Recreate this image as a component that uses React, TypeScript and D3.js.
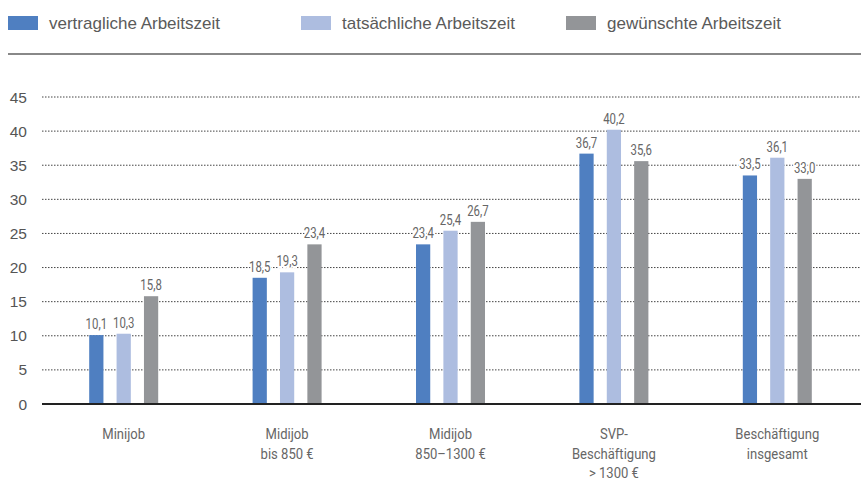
import React from 'react';
import * as d3 from 'd3';

const categories = ['Minijob', 'Midijob 850', 'Midijob 1300', 'SVP', 'Gesamt'];
const categoryLabels = [
  ['Minijob'],
  ['Midijob', 'bis 850 €'],
  ['Midijob', '850–1300 €'],
  ['SVP-', 'Beschäftigung', '> 1300 €'],
  ['Beschäftigung', 'insgesamt'],
];
const seriesNames = ['vertragliche Arbeitszeit', 'tatsächliche Arbeitszeit', 'gewünschte Arbeitszeit'];
const vertraglich = [10.1, 18.5, 23.4, 36.7, 33.5];
const tatsaechlich = [10.3, 19.3, 25.4, 40.2, 36.1];
const gewuenscht = [15.8, 23.4, 26.7, 35.6, 33.0];
const yTicks = [0, 5, 10, 15, 20, 25, 30, 35, 40, 45];

const colors = ['#4f7fc1', '#adbde0', '#939598'];
const series = [vertraglich, tatsaechlich, gewuenscht];
const legendX = [8, 301, 566];

const W = 861;
const H = 502;
const sans = '"Liberation Sans", Arial, sans-serif';

// condensed look: squeeze Roboto horizontally
const CText = ({ x, y, size, sx, halo, children }: any) => (
  <g transform={`translate(${x},${y}) scale(${sx},1)`}>
    <text
      textAnchor="middle"
      fontSize={size}
      fontFamily="Roboto, sans-serif"
      fill="#666"
      stroke={halo ? '#fff' : 'none'}
      strokeWidth={halo ? 4 : 0}
      paintOrder="stroke"
    >
      {children}
    </text>
  </g>
);

export default function App() {
  const x = d3.scaleBand().domain(categories).range([42, 859]);
  const y = d3.scaleLinear().domain([0, 45]).range([404, 97]);
  const inner = d3.scaleBand().domain(['0', '1', '2']).range([-34.5, 34.5]).paddingInner(0.48);
  const fmt = (v: number) => d3.format('.1f')(v).replace('.', ',');

  return (
    <svg width={W} height={H} style={{ position: 'absolute', left: 0, top: 0 }}>
      <rect width={W} height={H} fill="#fff" />
      {seriesNames.map((name, i) => (
        <g key={name}>
          <rect x={legendX[i]} y={16} width={30} height={14} fill={colors[i]} />
          <text x={legendX[i] + 41} y={29} fontSize={17} fontFamily={sans} fill="#5a5a5a">
            {name}
          </text>
        </g>
      ))}
      <line x1={8} x2={861} y1={54} y2={54} stroke="#888" strokeWidth={2} />

      {yTicks.map((t) => (
        <g key={t}>
          {t > 0 && (
            <line
              x1={42}
              x2={861}
              y1={y(t)}
              y2={y(t)}
              stroke="#444"
              strokeWidth={1}
              strokeDasharray="1.5,1.5"
            />
          )}
          <text x={27} y={y(t) + 5.5} textAnchor="end" fontSize={15.5} fontFamily={sans} fill="#555">
            {t}
          </text>
        </g>
      ))}

      {categories.map((c, ci) => {
        const cx = (x(c) ?? 0) + x.bandwidth() / 2;
        return (
          <g key={c} transform={`translate(${cx},0)`}>
            {series.map((s, si) => {
              const bx = inner(String(si)) ?? 0;
              return (
                <g key={si}>
                  <rect
                    x={bx}
                    y={y(s[ci])}
                    width={inner.bandwidth()}
                    height={y(0) - y(s[ci])}
                    fill={colors[si]}
                  />
                  <CText x={bx + inner.bandwidth() / 2} y={y(s[ci]) - 6} size={15} sx={0.76} halo>
                    {fmt(s[ci])}
                  </CText>
                </g>
              );
            })}
            {categoryLabels[ci].map((l, li) => (
              <CText key={li} x={0} y={439 + li * 19.5} size={15} sx={0.87}>
                {l}
              </CText>
            ))}
          </g>
        );
      })}
      <line x1={42} x2={861} y1={y(0)} y2={y(0)} stroke="#222" strokeWidth={2} />
    </svg>
  );
}
